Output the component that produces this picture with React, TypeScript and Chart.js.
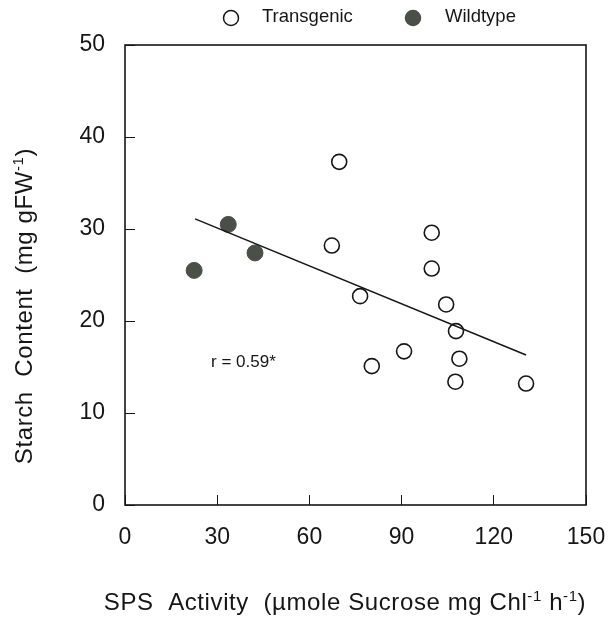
import React, { useEffect, useRef } from "react";
import { Chart, registerables } from "chart.js";

Chart.register(...registerables);

// ---- data ----
const seriesLabels = ["Transgenic", "Wildtype"];
const transgenicX = [69.7, 67.3, 76.5, 80.3, 90.8, 99.8, 99.8, 104.5, 107.7, 108.8, 107.5, 130.5];
const transgenicY = [37.3, 28.2, 22.7, 15.1, 16.7, 29.6, 25.7, 21.8, 18.9, 15.9, 13.4, 13.2];
const wildtypeX = [22.5, 33.6, 42.3];
const wildtypeY = [25.5, 30.5, 27.4];
const fitX = [22.8, 130.5];
const fitY = [31.1, 16.3];
const xTicks = [0, 30, 60, 90, 120, 150];
const yTicks = [0, 10, 20, 30, 40, 50];
const annotationText = "r = 0.59*";
const annotationAt = [28, 15.5];
const xTitle = [
  { t: "SPS  Activity  (\u00B5mole Sucrose mg Chl" },
  { t: "-1", sup: true },
  { t: " h" },
  { t: "-1", sup: true },
  { t: ")" },
];
const yTitle = [
  { t: "Starch  Content  (mg gFW" },
  { t: "-1", sup: true },
  { t: ")" },
];

const FONT = "'Liberation Sans', Arial, Helvetica, sans-serif";
const INK = "#161616";
const FILLED = "#4a5048";

type Seg = { t: string; sup?: boolean };

function setFont(ctx: CanvasRenderingContext2D, size: number, spacing: number) {
  ctx.font = `${size}px ${FONT}`;
  try {
    (ctx as any).letterSpacing = `${spacing}px`;
  } catch (e) {}
}

function richWidth(ctx: CanvasRenderingContext2D, segs: Seg[], size: number, supSize: number, sp: number) {
  let w = 0;
  for (const s of segs) {
    setFont(ctx, s.sup ? supSize : size, sp);
    w += ctx.measureText(s.t).width;
  }
  return w;
}

function drawRich(
  ctx: CanvasRenderingContext2D,
  segs: Seg[],
  x: number,
  y: number,
  size: number,
  supSize: number,
  rise: number,
  sp: number
) {
  let cx = x;
  for (const s of segs) {
    setFont(ctx, s.sup ? supSize : size, sp);
    ctx.fillText(s.t, cx, s.sup ? y - rise : y);
    cx += ctx.measureText(s.t).width;
  }
}

const decorPlugin = {
  id: "decor",
  afterDraw(chart: any) {
    const ctx: CanvasRenderingContext2D = chart.ctx;
    const a = chart.chartArea;
    ctx.save();
    // frame
    ctx.strokeStyle = INK;
    ctx.lineWidth = 1.6;
    ctx.strokeRect(a.left, a.top, a.right - a.left, a.bottom - a.top);

    ctx.fillStyle = INK;
    ctx.textBaseline = "alphabetic";
    ctx.textAlign = "left";

    // x title
    const size = 24;
    const sup = 15;
    const sp = 0.6;
    const wx = richWidth(ctx, xTitle, size, sup, sp);
    drawRich(ctx, xTitle, 345 - wx / 2, 610, size, sup, 9, sp);

    // y title
    const wy = richWidth(ctx, yTitle, size, sup, sp);
    ctx.save();
    ctx.translate(32, 306);
    ctx.rotate(-Math.PI / 2);
    drawRich(ctx, yTitle, -wy / 2, 0, size, sup, 9, sp);
    ctx.restore();
    setFont(ctx, 17, 0);

    // annotation
    const xs = chart.scales.x;
    const ys = chart.scales.y;
    ctx.font = `17px ${FONT}`;
    ctx.textBaseline = "middle";
    ctx.fillText(annotationText, xs.getPixelForValue(annotationAt[0]), ys.getPixelForValue(annotationAt[1]));

    // legend
    const items = [
      { label: seriesLabels[0], cx: 231, tx: 262, fill: "#ffffff", stroke: INK },
      { label: seriesLabels[1], cx: 413, tx: 445, fill: FILLED, stroke: FILLED },
    ];
    ctx.font = `18.5px ${FONT}`;
    for (const it of items) {
      ctx.beginPath();
      ctx.arc(it.cx, 18, 7.5, 0, Math.PI * 2);
      ctx.fillStyle = it.fill;
      ctx.fill();
      ctx.lineWidth = 1.5;
      ctx.strokeStyle = it.stroke;
      ctx.stroke();
      ctx.fillStyle = INK;
      ctx.fillText(it.label, it.tx, 17);
    }
    ctx.restore();
  },
};

export default function App() {
  const ref = useRef<HTMLCanvasElement | null>(null);

  useEffect(() => {
    if (!ref.current) return;
    const chart = new Chart(ref.current, {
      type: "scatter",
      data: {
        datasets: [
          {
            type: "line",
            label: "fit",
            data: fitX.map((x, i) => ({ x, y: fitY[i] })),
            borderColor: INK,
            borderWidth: 1.5,
            pointRadius: 0,
            showLine: true,
            fill: false,
            order: 0,
          } as any,
          {
            label: seriesLabels[0],
            data: transgenicX.map((x, i) => ({ x, y: transgenicY[i] })),
            backgroundColor: "#ffffff",
            borderColor: INK,
            borderWidth: 1.6,
            pointRadius: 7.5,
            pointStyle: "circle",
            order: 1,
          },
          {
            label: seriesLabels[1],
            data: wildtypeX.map((x, i) => ({ x, y: wildtypeY[i] })),
            backgroundColor: FILLED,
            borderColor: FILLED,
            borderWidth: 1,
            pointRadius: 8,
            pointStyle: "circle",
            order: 1,
          },
        ],
      },
      options: {
        responsive: false,
        animation: false,
        events: [],
        layout: { padding: { left: 0, top: 45, right: 22, bottom: 0 } },
        plugins: {
          legend: { display: false },
          tooltip: { enabled: false },
          title: { display: false },
        },
        scales: {
          x: {
            type: "linear",
            min: 0,
            max: 150,
            afterBuildTicks: (axis: any) => {
              axis.ticks = xTicks.map((v) => ({ value: v }));
            },
            afterFit: (axis: any) => {
              axis.height = 113;
              axis.paddingLeft = 0;
              axis.paddingRight = 0;
            },
            border: { display: false },
            grid: { drawOnChartArea: false, drawTicks: true, tickLength: -10, color: INK, lineWidth: 1 },
            ticks: { padding: 29, color: INK, font: { family: FONT, size: 23 }, maxRotation: 0 },
          },
          y: {
            type: "linear",
            min: 0,
            max: 50,
            afterBuildTicks: (axis: any) => {
              axis.ticks = yTicks.map((v) => ({ value: v }));
            },
            afterFit: (axis: any) => {
              axis.width = 125;
            },
            border: { display: false },
            grid: { drawOnChartArea: false, drawTicks: true, tickLength: -10, color: INK, lineWidth: 1 },
            ticks: { padding: 30, color: INK, font: { family: FONT, size: 23 } },
          },
        },
      },
      plugins: [decorPlugin],
    });
    return () => chart.destroy();
  }, []);

  return (
    <div style={{ position: "absolute", left: 0, top: 0, width: 608, height: 618, background: "#fff" }}>
      <canvas ref={ref} width={608} height={618} style={{ display: "block" }} />
    </div>
  );
}
